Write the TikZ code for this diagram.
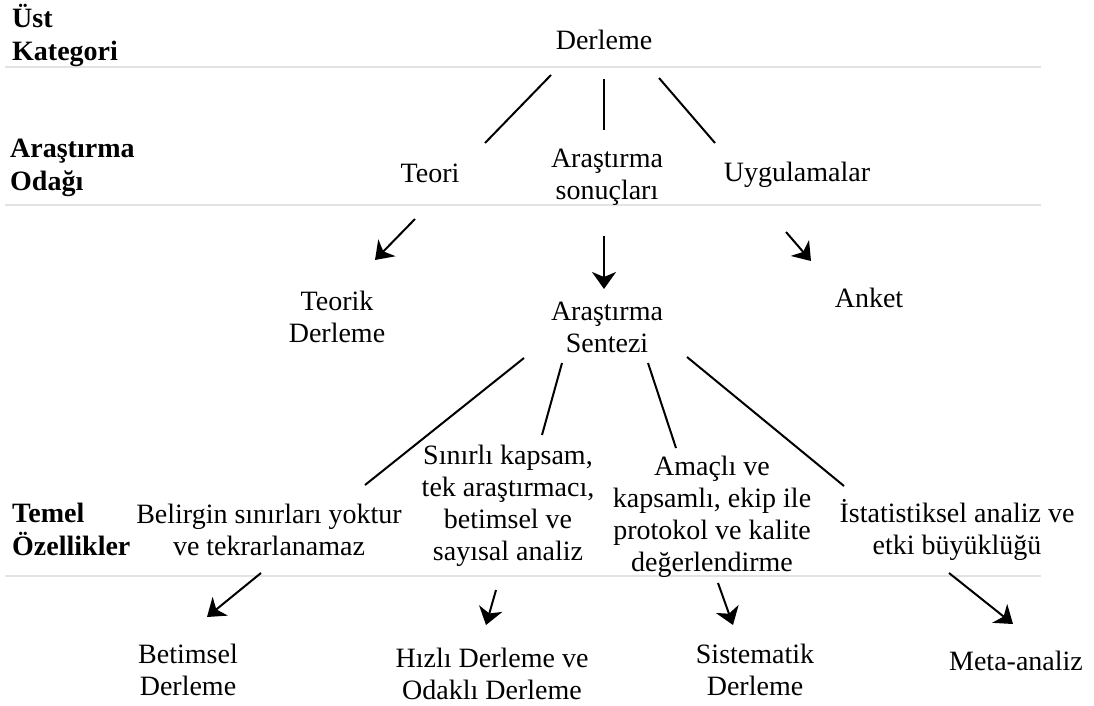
\documentclass[tikz,border=0pt]{standalone}
\usepackage{fontspec}
\setmainfont{Liberation Serif}
\usetikzlibrary{arrows.meta}

\tikzset{
  txt/.style={font=\fontsize{28}{32}\selectfont, align=center, inner sep=0pt, anchor=base},
  cat/.style={font=\fontsize{28}{33}\selectfont\bfseries, align=left, inner sep=0pt, anchor=base west},
  sep/.style={gray!22, line width=1.5pt},
  link/.style={line width=2pt},
  arr/.style={link, -{Stealth[length=17pt, width=24pt, inset=5pt]}}
}

\begin{document}
\begin{tikzpicture}[x=1pt, y=-1pt]
  \useasboundingbox (0,0) rectangle (1094,706);

  % Separators
  \draw[sep] (5,67) -- (1041,67);
  \draw[sep] (5,205) -- (1041,205);
  \draw[sep] (5,576) -- (1041,576);

  % Category labels (base = last line)
  \node[cat] (catUst) at (12,61) {Üst\\Kategori};
  \node[cat] (catOdak) at (10,190) {Araştırma\\Odağı};
  \node[cat] (catTemel) at (12,555) {Temel\\Özellikler};

  % Top levels
  \node[txt] (derleme) at (604,50) {Derleme};
  \node[txt] (teori) at (430,182) {Teori};
  \node[txt] (sonuc) at (607,199) {Araştırma\\sonuçları};
  \node[txt] (uygulama) at (797,181) {Uygulamalar};

  % Review types
  \node[txt] (teorik) at (337,342) {Teorik\\Derleme};
  \node[txt] (sentez) at (607,352) {Araştırma\\Sentezi};
  \node[txt] (anket) at (869,307) {Anket};

  % Features
  \node[txt] (belirgin) at (269,555) {Belirgin sınırları yoktur\\ve tekrarlanamaz};
  \node[txt] (sinirli) at (508,560) {Sınırlı kapsam,\\tek araştırmacı,\\betimsel ve\\sayısal analiz};
  \node[txt] (amacli) at (712,571) {Amaçlı ve\\kapsamlı, ekip ile\\protokol ve kalite\\değerlendirme};
  \node[txt] (istat) at (957,554) {İstatistiksel analiz ve\\etki büyüklüğü};

  % Results
  \node[txt] (betimsel) at (188,695) {Betimsel\\Derleme};
  \node[txt] (hizli) at (492,699) {Hızlı Derleme ve\\Odaklı Derleme};
  \node[txt] (sistematik) at (755,695) {Sistematik\\Derleme};
  \node[txt] (meta) at (1016,670) {Meta-analiz};

  % Connector ends
  \coordinate (derleme-l) at (551,75);
  \coordinate (derleme-m) at (604,79);
  \coordinate (derleme-r) at (659,78);
  \coordinate (teori-in) at (485,143);
  \coordinate (sonuc-in) at (604,130);
  \coordinate (uygulama-in) at (715,143);

  \coordinate (teori-out) at (415,219);
  \coordinate (sonuc-out) at (604,236);
  \coordinate (uygulama-out) at (786,232);
  \coordinate (teorik-in) at (375,260);
  \coordinate (sentez-in) at (604,289);
  \coordinate (anket-in) at (811,261);

  \coordinate (sentez-a) at (524,358);
  \coordinate (sentez-b) at (562,363);
  \coordinate (sentez-c) at (648,363);
  \coordinate (sentez-d) at (687,357);
  \coordinate (belirgin-in) at (365,485);
  \coordinate (sinirli-in) at (542,435);
  \coordinate (amacli-in) at (676,448);
  \coordinate (istat-in) at (844,486);

  \coordinate (belirgin-out) at (261,573);
  \coordinate (sinirli-out) at (496,590);
  \coordinate (amacli-out) at (718,583);
  \coordinate (istat-out) at (949,573);
  \coordinate (betimsel-in) at (207,617);
  \coordinate (hizli-in) at (486,625);
  \coordinate (sistematik-in) at (733,625);
  \coordinate (meta-in) at (1013,624);

  % Lines
  \draw[link] (derleme-l) -- (teori-in);
  \draw[link] (derleme-m) -- (sonuc-in);
  \draw[link] (derleme-r) -- (uygulama-in);
  \draw[link] (sentez-a) -- (belirgin-in);
  \draw[link] (sentez-b) -- (sinirli-in);
  \draw[link] (sentez-c) -- (amacli-in);
  \draw[link] (sentez-d) -- (istat-in);

  % Arrows
  \draw[arr] (teori-out) -- (teorik-in);
  \draw[arr] (sonuc-out) -- (sentez-in);
  \draw[arr] (uygulama-out) -- (anket-in);
  \draw[arr] (belirgin-out) -- (betimsel-in);
  \draw[arr] (sinirli-out) -- (hizli-in);
  \draw[arr] (amacli-out) -- (sistematik-in);
  \draw[arr] (istat-out) -- (meta-in);
\end{tikzpicture}
\end{document}
